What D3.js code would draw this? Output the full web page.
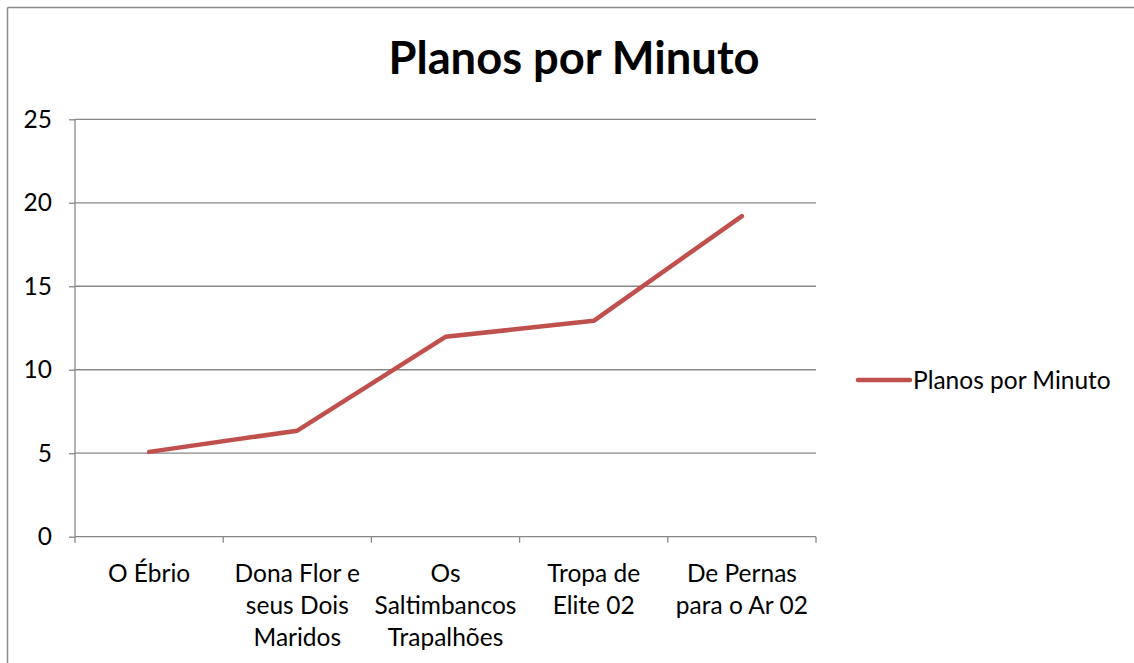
<!DOCTYPE html>
<html><head><meta charset="utf-8">
<script src="https://cdn.jsdelivr.net/npm/d3@7"></script>
<style>
html,body{margin:0;padding:0;background:#fff;}
text{font-family:Lato,"Open Sans",sans-serif;fill:#000;}
</style></head>
<body>
<svg id="c" width="1134" height="663"></svg>
<script>
const categories = ["O Ébrio", "Dona Flor e\nseus Dois\nMaridos", "Os\nSaltimbancos\nTrapalhões", "Tropa de\nElite 02", "De Pernas\npara o Ar 02"];
const values = [5.08, 6.35, 11.97, 12.93, 19.2];
const yTicks = [0, 5, 10, 15, 20, 25];
const seriesName = "Planos por Minuto";
const title = "Planos por Minuto";

const svg = d3.select("#c");
const W = 1134, H = 663;
const m = {left: 75, right: 816, top: 119.3, bottom: 536.7};
const fs = 24.5;

// outer border (top and left visible)
svg.append("line").attr("x1", 7.5).attr("x2", W).attr("y1", 7.5).attr("y2", 7.5).attr("stroke", "#8a8a8a").attr("stroke-width", 1.5);
svg.append("line").attr("x1", 7.5).attr("x2", 7.5).attr("y1", 7.5).attr("y2", H).attr("stroke", "#8a8a8a").attr("stroke-width", 1.5);

const x = d3.scaleBand().domain(categories).range([m.left, m.right]).paddingInner(0).paddingOuter(0);
const y = d3.scaleLinear().domain([0, 25]).range([m.bottom, m.top]);

// gridlines
svg.append("g").selectAll("line").data(yTicks.filter(d => d > 0)).join("line")
  .attr("x1", m.left).attr("x2", m.right)
  .attr("y1", d => y(d)).attr("y2", d => y(d))
  .attr("stroke", "#878787").attr("stroke-width", 1.3);

// y axis
const yAxis = svg.append("g").attr("transform", `translate(${m.left},0)`)
  .call(d3.axisLeft(y).tickValues(yTicks).tickSize(6).tickPadding(17));
yAxis.select(".domain").attr("stroke", "#878787").attr("stroke-width", 1.3).attr("d", `M0,${m.top}V${m.bottom}`);
yAxis.selectAll(".tick line").attr("stroke", "#878787").attr("stroke-width", 1.3);
yAxis.selectAll(".tick text").attr("font-size", fs).attr("font-family", "Lato").attr("fill", "#000");

// x axis
const xAxis = svg.append("g").attr("transform", `translate(0,${m.bottom})`)
  .call(d3.axisBottom(x).tickSize(0).tickFormat(""));
xAxis.select(".domain").attr("stroke", "#878787").attr("stroke-width", 1.3).attr("d", `M${m.left},0H${m.right}`);
// boundary ticks
const bounds = categories.map(c => x(c)).concat([m.right]);
svg.append("g").selectAll("line").data(bounds).join("line")
  .attr("x1", d => d).attr("x2", d => d).attr("y1", m.bottom).attr("y2", m.bottom + 6)
  .attr("stroke", "#878787").attr("stroke-width", 1.3);

// category labels
const lab = svg.append("g").selectAll("text").data(categories).join("text")
  .attr("text-anchor", "middle").attr("font-size", fs)
  .attr("transform", d => `translate(${x(d) + x.bandwidth() / 2},582)`);
lab.each(function(d) {
  const t = d3.select(this);
  d.split("\n").forEach((ln, i) => {
    t.append("tspan").attr("x", 0).attr("y", i * 32).text(ln);
  });
});

// line
const lineGen = d3.line().x((d, i) => x(categories[i]) + x.bandwidth() / 2).y(d => y(d));
svg.append("path").datum(values).attr("d", lineGen)
  .attr("fill", "none").attr("stroke", "#C0504D").attr("stroke-width", 4.5)
  .attr("stroke-linejoin", "round").attr("stroke-linecap", "round");

// title
svg.append("text").attr("x", 574).attr("y", 74).attr("text-anchor", "middle")
  .attr("font-size", 45.3).attr("font-weight", "bold").text(title);

// legend
svg.append("line").attr("x1", 858).attr("x2", 910).attr("y1", 380).attr("y2", 380)
  .attr("stroke", "#C0504D").attr("stroke-width", 4.5).attr("stroke-linecap", "round");
svg.append("text").attr("x", 913).attr("y", 389).attr("font-size", fs).text(seriesName);
</script>
</body></html>
